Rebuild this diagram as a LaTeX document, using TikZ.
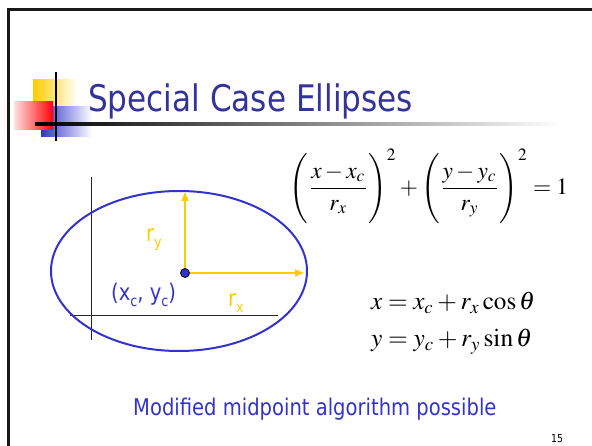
\documentclass[tikz,border=0pt]{standalone}
\usepackage{amsmath}
\usepackage{mathptmx}
\usepackage[no-math]{fontspec}
\usepackage{graphicx}
\newfontfamily\slidefont{DejaVu Sans}[FakeStretch=0.85]
\usetikzlibrary{arrows.meta,positioning,shapes.geometric}
\definecolor{titleblue}{HTML}{333399}
\definecolor{textblue}{HTML}{3333CC}
\definecolor{gold}{HTML}{FFCC00}
\newcommand{\lsub}[1]{\raisebox{-0.25em}{\fontsize{15}{15}\selectfont #1}}

\begin{document}
\begin{tikzpicture}[x=1pt,y=-1pt]%
        \tikzset{%
            slide label/.style={inner sep=0pt, font=\slidefont\fontsize{23}{25}\selectfont},
            radius arrow/.style={draw=gold, line width=1.8pt, -{Triangle[length=9pt,width=7pt]}},
            axis line/.style={draw=black!85, line width=0.8pt},
            eq/.style={inner sep=0pt},
        }%
        \useasboundingbox (0,0) rectangle (592,446);
        % slide frame
        \draw[line width=3pt, black!90] (8.5,447) -- (8.5,10) -- (593,10);
        % logo squares and rules
        \shade[left color=gold, middle color=gold, right color=white] (33,80) rectangle (78,108);
        \shade[left color=textblue, middle color=textblue, right color=white] (41,107) rectangle (92,137);
        \shade[left color=red!12, right color=red] (14,102) rectangle (53,130);
        \shade[left color=black, middle color=black!55, right color=white] (35,122.8) rectangle (562,125.2);
        \draw[line width=2.4pt] (56,72) -- (56,141);
        \node[anchor=base west, inner sep=0pt, text=titleblue,
              font=\slidefont\fontsize{36.6}{40}\selectfont] (title) at (88,112) {Special Case Ellipses};
        % axes
        \coordinate (ytop) at (91,177);
        \coordinate (ybot) at (91,340);
        \coordinate (xleft) at (70,315);
        \coordinate (xright) at (278,315);
        \draw[axis line] (ytop) -- (ybot);
        \draw[axis line] (xleft) -- (xright);
        % ellipse with its radii
        \node[draw=textblue, line width=2pt, ellipse, minimum width=256pt, minimum height=160pt, inner sep=0pt] (ell) at (179,271) {};
        \coordinate (c) at (185,273);
        \coordinate (ry) at (185,192);
        \coordinate (rx) at (304,273);
        \draw[radius arrow] (c) -- (ry);
        \draw[radius arrow] (c) -- (rx);
        \node[circle, fill=textblue, draw=black, line width=0.8pt, minimum size=9pt, inner sep=0pt] (dot) at (c) {};
        \node[slide label, text=gold, anchor=base west] (lry) at (146,242) {r\lsub{y}};
        \node[slide label, text=gold, anchor=base west] (lrx) at (228,307) {r\lsub{x}};
        \node[slide label, text=textblue, anchor=base west] (lc) at (111,301) {(x\lsub{c}, y\lsub{c})};
        % equations
        \node[eq] (eqa) at (429,186) {\resizebox{278pt}{!}{$\Biggl(\dfrac{x-x_c}{r_x}\Biggr)^{2}+\Biggl(\dfrac{y-y_c}{r_y}\Biggr)^{2}=1$}};
        \node[eq, anchor=base west] (eqb) at (371,310) {\resizebox{164pt}{!}{$x=x_c+r_x\cos\theta$}};
        \node[eq, anchor=base west] (eqc) at (371,347) {\resizebox{161pt}{!}{$y=y_c+r_y\sin\theta$}};
        % footer
        \node[slide label, text=textblue, anchor=base west] (note) at (133,415) {Modified midpoint algorithm possible};
        \node[anchor=base west, inner sep=0pt, font=\slidefont\fontsize{11}{12}\selectfont] (page) at (551,442) {15};
\end{tikzpicture}
\end{document}
